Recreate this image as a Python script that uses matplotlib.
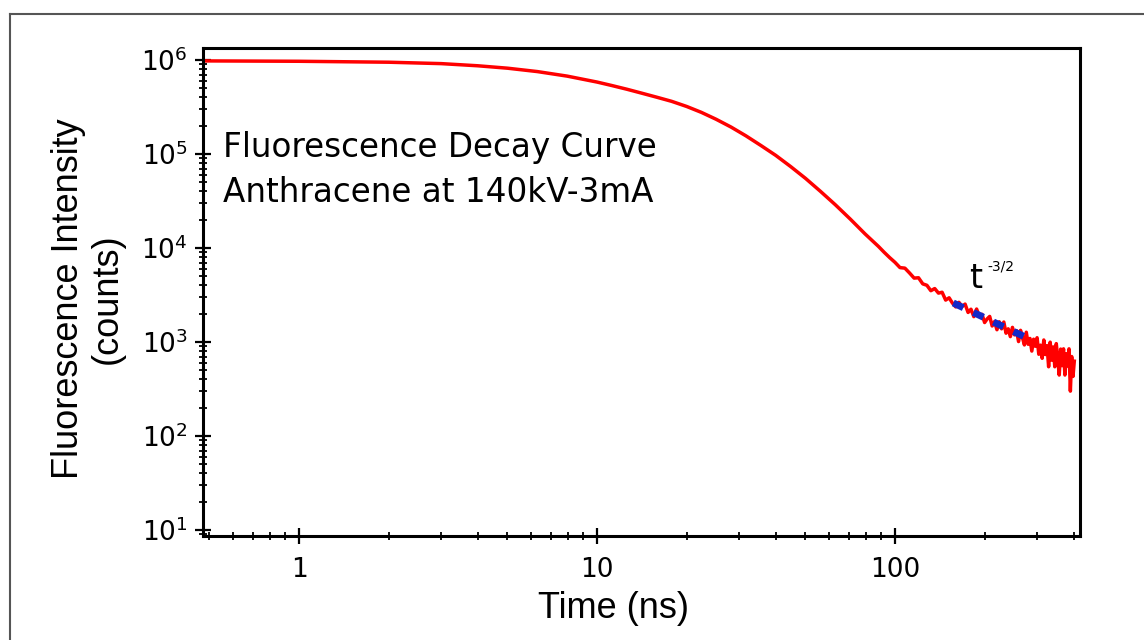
import matplotlib
matplotlib.use("Agg")
import matplotlib.pyplot as plt
from matplotlib.ticker import LogLocator, NullFormatter
from matplotlib.lines import Line2D

# ---- data ----
time_smooth = [0.48, 1.0, 2.0, 3.0, 3.98, 5.01, 6.31, 7.94, 10.0, 11.2, 12.6, 14.1,
               15.8, 17.8, 20.0, 22.4, 25.1, 28.2, 31.6, 35.5, 39.8, 44.7, 50.1,
               56.2, 63.1, 70.8, 79.4, 88, 92, 96]
counts_smooth = [9.77e5, 9.68e5, 9.46e5, 9.14e5, 8.67e5, 8.17e5, 7.52e5, 6.73e5,
                 5.82e5, 5.35e5, 4.88e5, 4.44e5, 4.03e5, 3.63e5, 3.20e5, 2.77e5,
                 2.34e5, 1.93e5, 1.56e5, 1.23e5, 9.66e4, 7.33e4, 5.50e4, 4.01e4,
                 2.88e4, 2.03e4, 1.41e4, 1.04e4, 9.0e3, 7.9e3]

time_tail = [100, 104, 108, 112, 116, 120, 124, 128, 132, 136, 140, 144, 148, 152,
             156, 160, 164, 168, 172, 176, 180, 184, 188, 192, 196, 200, 204, 208,
             212, 216, 220, 224, 228, 232, 236, 240, 244, 248, 252, 256, 260, 264,
             268, 272, 276, 280, 284, 288, 292, 296, 300, 304, 308, 312, 316, 320,
             324, 328, 332, 336, 340, 344, 348, 352, 356, 360, 364, 368, 372, 376,
             380, 384, 388, 392, 396, 400]
counts_tail = [7040, 6180, 6100, 5410, 4780, 4820, 4150, 4010, 3510, 3700, 3310,
               3380, 2790, 2950, 2590, 2360, 2640, 2380, 2530, 2060, 2230, 1860,
               2240, 1870, 1970, 1610, 1760, 1870, 1480, 1650, 1350, 1640, 1380,
               1630, 1240, 1380, 1140, 1430, 1190, 1320, 1010, 1330, 1110, 930,
               1270, 945, 1090, 800, 1070, 900, 1110, 740, 925, 670, 1050, 735,
               915, 545, 995, 640, 885, 545, 960, 663, 445, 840, 560, 845, 445,
               750, 555, 845, 300, 700, 430, 625]

fit_time = [157, 291]
fit_counts = [2600, 1030]

xticks = [1, 10, 100]
xticklabels = ["1", "10", "100"]
yticks = [1e1, 1e2, 1e3, 1e4, 1e5, 1e6]
yticklabels = [r"$\mathregular{10^{1}}$", r"$\mathregular{10^{2}}$", r"$\mathregular{10^{3}}$",
               r"$\mathregular{10^{4}}$", r"$\mathregular{10^{5}}$", r"$\mathregular{10^{6}}$"]

W, H = 1144, 640
fig = plt.figure(figsize=(W / 100, H / 100), dpi=100)
ax = fig.add_axes([203 / W, 1 - 536 / H, (1080 - 203) / W, (536 - 48) / H])

ax.plot(time_smooth + time_tail, counts_smooth + counts_tail, color="#ff0000", lw=2.5,
        solid_joinstyle="round")
ax.plot(fit_time, fit_counts, color="#1428c8", lw=5.0, dashes=(1.6, 1.6),
        dash_capstyle="butt", zorder=5)

ax.set_xscale("log")
ax.set_yscale("log")
ax.set_xlim(0.476, 418)
ax.set_ylim(8.63, 1.34e6)

ax.set_xticks(xticks)
ax.set_xticklabels(xticklabels)
ax.set_yticks(yticks)
ax.set_yticklabels(yticklabels)
ax.xaxis.set_minor_locator(LogLocator(base=10, subs=range(2, 10), numticks=20))
ax.yaxis.set_minor_locator(LogLocator(base=10, subs=range(2, 10), numticks=20))
ax.xaxis.set_minor_formatter(NullFormatter())
ax.yaxis.set_minor_formatter(NullFormatter())

ax.tick_params(which="major", direction="inout", length=12, width=1.6,
               labelsize=19, colors="black")
ax.tick_params(axis="x", which="major", pad=9)
ax.tick_params(axis="y", which="major", pad=5)
ax.tick_params(which="minor", direction="inout", length=6, width=1.3)
for lab in ax.get_xticklabels() + ax.get_yticklabels():
    lab.set_family("DejaVu Sans")
for s in ax.spines.values():
    s.set_linewidth(2.2)
    s.set_color("black")

# annotation texts
ax.text(0.0228, 0.777, "Fluorescence Decay Curve", transform=ax.transAxes,
        fontsize=23.5, family="DejaVu Sans", va="baseline", ha="left")
ax.text(0.0228, 0.685, "Anthracene at 140kV-3mA", transform=ax.transAxes,
        fontsize=23.5, family="DejaVu Sans", va="baseline", ha="left")
ax.text(0.8740, 0.508, "t", transform=ax.transAxes, fontsize=24,
        family="DejaVu Sans", va="baseline", ha="left")
ax.text(0.894, 0.545, "-3/2", transform=ax.transAxes, fontsize=10,
        family="DejaVu Sans", va="baseline", ha="left")

# axis labels
fig.text(613.5 / W, 1 - 618 / H, "Time (ns)", fontsize=26, family="Liberation Sans",
         ha="center", va="baseline")
fig.text(88 / W, 1 - 299 / H, "Fluorescence Intensity\n(counts)", fontsize=26,
         family="Liberation Sans", rotation=90, ha="center", va="center",
         multialignment="center", linespacing=1.15)

# partial frame border (top and left)
fig.add_artist(Line2D([10 / W, 10 / W], [0, 1 - 14 / H], transform=fig.transFigure,
                      color="#555555", lw=1.5))
fig.add_artist(Line2D([10 / W, 1], [1 - 14 / H, 1 - 14 / H], transform=fig.transFigure,
                      color="#555555", lw=1.5))

fig.savefig("out.png", dpi=100, facecolor="white")
